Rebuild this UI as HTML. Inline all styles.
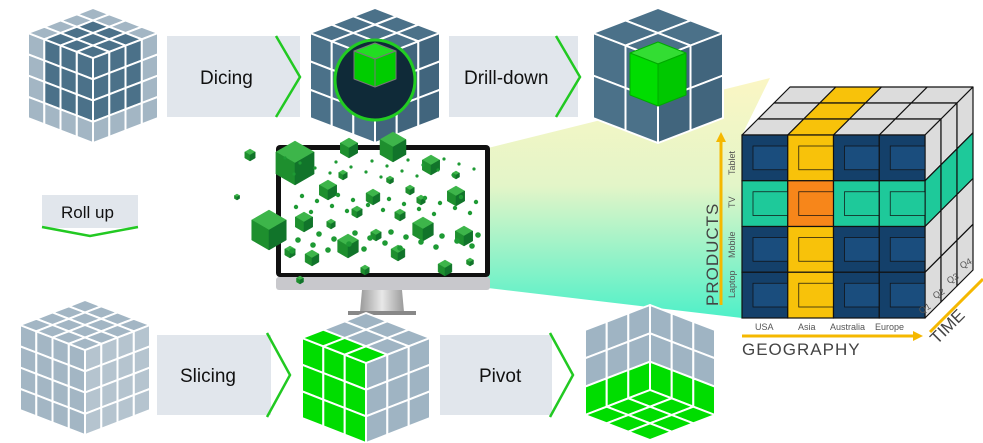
<!DOCTYPE html>
<html><head><meta charset="utf-8"><style>
html,body{margin:0;padding:0;background:#fff;width:983px;height:443px;overflow:hidden}
svg{display:block}
text{font-family:"Liberation Sans",sans-serif}
</style></head><body>
<svg id="s" width="983" height="443" viewBox="0 0 983 443" xmlns="http://www.w3.org/2000/svg">
<defs>
<linearGradient id="beam" x1="0" y1="0" x2="0" y2="1">
<stop offset="0" stop-color="#fbf6c4"/><stop offset="0.45" stop-color="#e3f5c8"/><stop offset="1" stop-color="#4ff0c8"/>
</linearGradient>
<linearGradient id="stand" x1="0" y1="0" x2="1" y2="0">
<stop offset="0" stop-color="#9a9a9a"/><stop offset="0.5" stop-color="#e8e8e8"/><stop offset="1" stop-color="#9a9a9a"/>
</linearGradient>
</defs>
<polygon points="488,148 770,78 742,135 742,318 488,288" fill="url(#beam)"/>
<rect x="167" y="36" width="133" height="81" fill="#e1e6ec"/>
<polyline points="276,36 300,77 276,117" fill="none" stroke="#22c922" stroke-width="2.5"/>
<text x="200" y="84" font-size="19" fill="#111">Dicing</text>
<rect x="449" y="36" width="129" height="81" fill="#e1e6ec"/>
<polyline points="556,36 580,77 556,117" fill="none" stroke="#22c922" stroke-width="2.5"/>
<text x="464" y="84" font-size="19" fill="#111">Drill-down</text>
<rect x="42" y="195" width="96" height="33" fill="#e1e6ec"/>
<polyline points="42,227 90,236 138,227" fill="none" stroke="#22c922" stroke-width="2.5"/>
<text x="61" y="218" font-size="17" fill="#111">Roll up</text>
<rect x="157" y="335" width="114" height="80" fill="#e1e6ec"/>
<polyline points="267,333 290,375 267,417" fill="none" stroke="#22c922" stroke-width="2.5"/>
<text x="180" y="382" font-size="19" fill="#111">Slicing</text>
<rect x="440" y="335" width="112" height="80" fill="#e1e6ec"/>
<polyline points="550,333 573,375 550,417" fill="none" stroke="#22c922" stroke-width="2.5"/>
<text x="479" y="382" font-size="19" fill="#111">Pivot</text>
<rect x="276" y="145" width="214" height="132" rx="4" fill="#111"/>
<rect x="281" y="150" width="204" height="123" fill="#fff"/>
<rect x="276" y="277" width="214" height="13" rx="3" fill="#c8c8cc"/>
<polygon points="362,290 402,290 404,312 360,312" fill="url(#stand)"/>
<rect x="348" y="311" width="68" height="4" fill="#888"/>
<g id="g"></g>
</svg>
<script>
var S=document.getElementById('g'),NS='http://www.w3.org/2000/svg';
function el(t,a){var e=document.createElementNS(NS,t);for(var k in a)e.setAttribute(k,a[k]);S.appendChild(e);return e;}
function poly(pts,fill,stroke,sw){el('polygon',{points:pts.map(function(p){return p[0].toFixed(1)+','+p[1].toFixed(1)}).join(' '),fill:fill,stroke:stroke||'#fff','stroke-width':sw||2,'stroke-linejoin':'round'});}
function quad(o,u,v,i,j){return[[o[0]+u[0]*i+v[0]*j,o[1]+u[1]*i+v[1]*j],[o[0]+u[0]*(i+1)+v[0]*j,o[1]+u[1]*(i+1)+v[1]*j],[o[0]+u[0]*(i+1)+v[0]*(j+1),o[1]+u[1]*(i+1)+v[1]*(j+1)],[o[0]+u[0]*i+v[0]*(j+1),o[1]+u[1]*i+v[1]*(j+1)]];}
function cube(cx,y0,a,b,H,n,ct,cl,cr){
 var t=[cx,y0],ut=[a/n,b/n],vt=[-a/n,b/n];
 var l=[cx-a,y0+b],ul=[a/n,b/n],vl=[0,H/n];
 var r=[cx,y0+2*b],ur=[a/n,-b/n],vr=[0,H/n];
 for(var i=0;i<n;i++)for(var j=0;j<n;j++){
  poly(quad(t,ut,vt,i,j),ct(i,j));
  poly(quad(l,ul,vl,i,j),cl(i,j));
  poly(quad(r,ur,vr,i,j),cr(i,j));
 }
}
var L='#a3b6c4',D='#4b7189',D2='#41657d';
cube(93,8,65,25,85,4,function(i,j){return (i==0||j==0)?L:D},function(i,j){return (i==0||j==3)?L:D},function(i,j){return (i==3||j==3)?L:D});
cube(375,8,65,25,85,3,function(){return D},function(){return D},function(){return D2});
el('circle',{cx:375,cy:80,r:40,fill:'#0f2a38',stroke:'#22cc22','stroke-width':3});
poly([[375,43],[396,51],[375,59],[354,51]],'#22dd22','#777',1);
poly([[354,51],[375,59],[375,87],[354,79]],'#00cc00','#777',1);
poly([[375,59],[396,51],[396,79],[375,87]],'#00cc00','#777',1);
cube(658,8,65,25,85,2,function(){return D},function(){return D},function(){return D2});
poly([[658,42],[686,53],[658,64],[630,53]],'#33dd33','#0a0',1);
poly([[630,53],[658,64],[658,106],[630,95]],'#00dd00','#0a0',1);
poly([[658,64],[686,53],[686,95],[658,106]],'#00c800','#0a0',1);
cube(85,300,65,25,85,4,function(){return L},function(){return L},function(){return '#b5c4cf'});
var G='#00dd00',GR='#9fb4c3';
cube(366,313,64,25,80,3,function(i,j){return j==2?G:GR},function(){return G},function(){return GR});
(function(){var cx=650,y0=305,a=65,b=25,H=85,n=3;
 var o=[cx-a,y0+b],u=[a/n,-b/n],v=[0,H/n];
 for(var i=0;i<n;i++)for(var j=0;j<n;j++)poly(quad(o,u,v,i,j),j==2?G:GR);
 o=[cx,y0];u=[a/n,b/n];
 for(var i=0;i<n;i++)for(var j=0;j<n;j++)poly(quad(o,u,v,i,j),j==2?G:GR);
 o=[cx,y0+H];u=[a/n,b/n];var w=[-a/n,b/n];
 for(var i=0;i<n;i++)for(var j=0;j<n;j++)poly(quad(o,u,w,i,j),G);
})();
function hex(x,y,r){var k=0.866;
 poly([[x,y-r],[x+r*k,y-r/2],[x,y],[x-r*k,y-r/2]],'#3db54a','#3db54a',0.5);
 poly([[x-r*k,y-r/2],[x,y],[x,y+r],[x-r*k,y+r/2]],'#1e8f2e','#1e8f2e',0.5);
 poly([[x,y],[x+r*k,y-r/2],[x+r*k,y+r/2],[x,y+r]],'#11742a','#11742a',0.5);}
var hs=[[295,163,22],[349,148,10],[393,147,15],[269,230,20],[250,155,6],[237,197,3],[328,190,10],[373,197,8],[431,165,10],[423,229,12],[456,196,10],[464,236,10],[348,246,12],[312,258,8],[398,253,8],[445,268,8],[357,212,6],[400,215,6],[343,175,5],[390,180,4],[410,190,5],[456,175,4],[304,222,10],[421,200,5],[376,235,6],[331,224,5],[290,252,6],[470,262,4],[365,270,5],[300,280,4]];
hs.forEach(function(h){hex(h[0],h[1],h[2]);});
for(var k=0;k<60;k++){var x=285+((k*53)%195),y=158+((k*37)%110);el('circle',{cx:x,cy:y,r:1.6+(k%3)*0.6,fill:'#1e9a34'});}
(function(){var X=742,Y=135,c=45.75,dx=16,dy=-16;
 var navy='#14406a',yel='#f8c20a',grn='#1ec99a',org='#f7861a',gr='#dcdcdc';
 for(var d=2;d>=0;d--)for(var i=0;i<4;i++){
  var x0=X+i*c+dx*d,y0=Y+dy*d;
  poly([[x0,y0],[x0+c,y0],[x0+c+dx,y0+dy],[x0+dx,y0+dy]],i==1?yel:gr,'#111',1.2);}
 for(var d=0;d<3;d++)for(var j=0;j<4;j++){
  var x0=X+4*c+dx*d,y0=Y+j*c+dy*d;
  poly([[x0,y0],[x0+dx,y0+dy],[x0+dx,y0+dy+c],[x0,y0+c]],j==1?grn:gr,'#111',1.2);}
 for(var i=0;i<4;i++)for(var j=0;j<4;j++){
  var x0=X+i*c,y0=Y+j*c,f=(i==1&&j==1)?org:(i==1?yel:(j==1?grn:navy));
  el('rect',{x:x0,y:y0,width:c,height:c,fill:f,stroke:'#111','stroke-width':1.2});
  el('rect',{x:x0+11,y:y0+11,width:c-11,height:c-22,fill:f=='#14406a'?'#1b4f80':f,stroke:'#111','stroke-width':0.8,opacity:0.9});
 }
})();
</script>
<svg width="983" height="443" style="position:absolute;left:0;top:0" xmlns="http://www.w3.org/2000/svg">
<g font-family="Liberation Sans,sans-serif">
<line x1="721" y1="305" x2="721" y2="140" stroke="#f5b800" stroke-width="3"/>
<polygon points="716,142 726,142 721,132" fill="#f5b800"/>
<text transform="translate(718,306) rotate(-90)" font-size="17" fill="#444" letter-spacing="1">PRODUCTS</text>
<text transform="translate(735,298) rotate(-90)" font-size="9" fill="#555">Laptop</text>
<text transform="translate(735,258) rotate(-90)" font-size="9" fill="#555">Mobile</text>
<text transform="translate(735,208) rotate(-90)" font-size="9" fill="#555">TV</text>
<text transform="translate(735,175) rotate(-90)" font-size="9" fill="#555">Tablet</text>
<text x="755" y="330" font-size="9" fill="#555">USA</text>
<text x="798" y="330" font-size="9" fill="#555">Asia</text>
<text x="830" y="330" font-size="9" fill="#555">Australia</text>
<text x="875" y="330" font-size="9" fill="#555">Europe</text>
<line x1="742" y1="336" x2="915" y2="336" stroke="#f5b800" stroke-width="3"/>
<polygon points="913,331 923,336 913,341" fill="#f5b800"/>
<text x="742" y="355" font-size="17" fill="#444" letter-spacing="1">GEOGRAPHY</text>
<line x1="930" y1="332" x2="983" y2="279" stroke="#f5b800" stroke-width="3"/>
<text transform="translate(937,345) rotate(-45)" font-size="17" fill="#444">TIME</text>
<text transform="translate(921,314) rotate(-30)" font-size="9" fill="#555">Q1</text>
<text transform="translate(935,299) rotate(-30)" font-size="9" fill="#555">Q2</text>
<text transform="translate(949,284) rotate(-30)" font-size="9" fill="#555">Q3</text>
<text transform="translate(962,269) rotate(-30)" font-size="9" fill="#555">Q4</text>
</g>
</svg>
</body></html>
